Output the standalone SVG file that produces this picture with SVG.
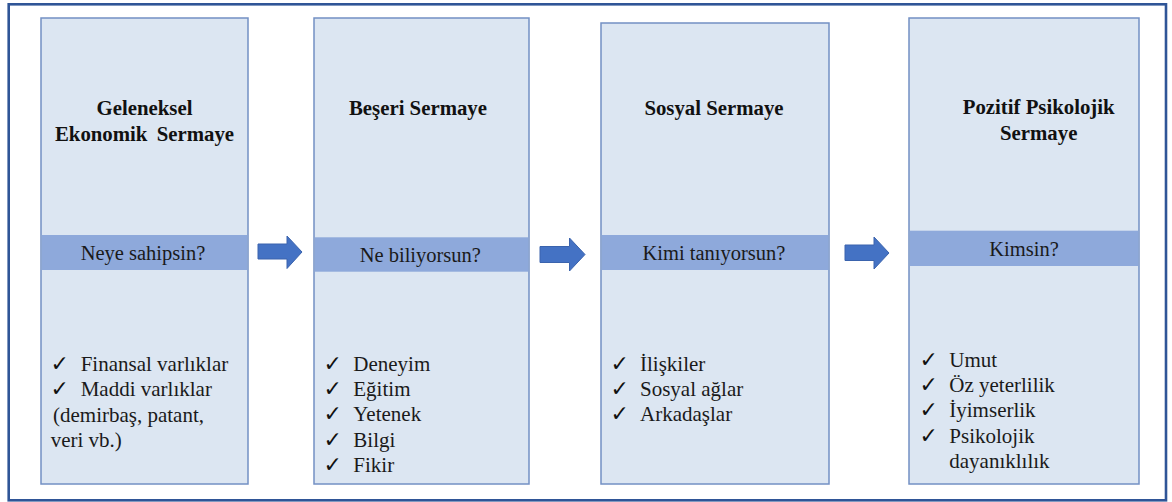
<svg xmlns="http://www.w3.org/2000/svg" width="1172" height="502" viewBox="0 0 1172 502" font-family="'Liberation Serif', 'Times New Roman', serif">
  <style>
    .frame { fill: #ffffff; stroke: #2F5597; stroke-width: 2.6; }
    .box { fill: #DCE6F2; stroke: #7390C4; stroke-width: 1.5; }
    .band { fill: #8EA9DB; }
    .title { font-weight: bold; font-size: 20.8px; fill: #111; text-anchor: middle; }
    .question { font-size: 20.5px; fill: #1a1a1a; text-anchor: middle; }
    .item { font-size: 21px; fill: #1a1a1a; }
    .check { font-family: "DejaVu Sans", sans-serif; font-size: 22px; fill: #111; }
    .arrow { fill: #4472C4; stroke: #3A63AD; stroke-width: 1; }
  </style>

  <!-- outer frame -->
  <rect class="frame" x="8.7" y="4.3" width="1157.3" height="496"/>

  <!-- stage 1 -->
  <g id="geleneksel">
    <rect class="box" x="41" y="18" width="207" height="466"/>
    <rect class="band" x="41.8" y="235" width="205.4" height="35"/>
    <text class="title" x="144.5" y="115">Geleneksel</text>
    <text class="title" x="144.5" y="140.7" word-spacing="4">Ekonomik Sermaye</text>
    <text class="question" x="143" y="259.5">Neye sahipsin?</text>
    <text class="check" x="50.5" y="370.7">✓</text>
    <text class="item" x="80.7" y="370.7">Finansal varlıklar</text>
    <text class="check" x="50.5" y="396.2">✓</text>
    <text class="item" x="80.7" y="396.2">Maddi varlıklar</text>
    <text class="item" x="53" y="421.5">(demirbaş, patant,</text>
    <text class="item" x="50.7" y="446.7">veri vb.)</text>
  </g>

  <!-- stage 2 -->
  <g id="beseri">
    <rect class="box" x="314" y="18" width="215" height="466"/>
    <rect class="band" x="314.8" y="237.3" width="213.4" height="34.4"/>
    <text class="title" x="418" y="115">Beşeri Sermaye</text>
    <text class="question" x="420.3" y="261.7">Ne biliyorsun?</text>
    <text class="check" x="323.5" y="370.7">✓</text>
    <text class="item" x="353.3" y="370.7">Deneyim</text>
    <text class="check" x="323.5" y="395.9">✓</text>
    <text class="item" x="353.3" y="395.9">Eğitim</text>
    <text class="check" x="323.5" y="421.1">✓</text>
    <text class="item" x="353.3" y="421.1">Yetenek</text>
    <text class="check" x="323.5" y="446.5">✓</text>
    <text class="item" x="353.3" y="446.5">Bilgi</text>
    <text class="check" x="323.5" y="471.7">✓</text>
    <text class="item" x="353.3" y="471.7">Fikir</text>
  </g>

  <!-- stage 3 -->
  <g id="sosyal">
    <rect class="box" x="601" y="23" width="228" height="461"/>
    <rect class="band" x="601.8" y="235" width="226.4" height="35"/>
    <text class="title" x="714" y="115">Sosyal Sermaye</text>
    <text class="question" x="714" y="260">Kimi tanıyorsun?</text>
    <text class="check" x="610.5" y="370.7">✓</text>
    <text class="item" x="640" y="370.7">İlişkiler</text>
    <text class="check" x="610.5" y="396">✓</text>
    <text class="item" x="640" y="396">Sosyal ağlar</text>
    <text class="check" x="610.5" y="420.8">✓</text>
    <text class="item" x="640" y="420.8">Arkadaşlar</text>
  </g>

  <!-- stage 4 -->
  <g id="pozitif">
    <rect class="box" x="909" y="18" width="230" height="466"/>
    <rect class="band" x="909.8" y="230.7" width="228.4" height="35.3"/>
    <text class="title" x="1038.7" y="114.3">Pozitif Psikolojik</text>
    <text class="title" x="1038.7" y="140">Sermaye</text>
    <text class="question" x="1024" y="255.7">Kimsin?</text>
    <text class="check" x="919.5" y="366.7">✓</text>
    <text class="item" x="949.3" y="366.7">Umut</text>
    <text class="check" x="919.5" y="392.3">✓</text>
    <text class="item" x="949.3" y="392.3">Öz yeterlilik</text>
    <text class="check" x="919.5" y="417.3">✓</text>
    <text class="item" x="949.3" y="417.3">İyimserlik</text>
    <text class="check" x="919.5" y="442.7">✓</text>
    <text class="item" x="949.3" y="442.7">Psikolojik</text>
    <text class="item" x="949.3" y="467.7">dayanıklılık</text>
  </g>

  <!-- block arrows between stages -->
  <g id="connectors">
    <polygon class="arrow" points="258,244 287,244 287,236 302,252 287,268.5 287,259 258,259"/>
    <polygon class="arrow" points="540,246.5 569.5,246.5 569.5,238 585,254.5 569.5,271 569.5,262.5 540,262.5"/>
    <polygon class="arrow" points="845,245 874,245 874,237 889,253 874,269 874,260.5 845,260.5"/>
  </g>
</svg>
